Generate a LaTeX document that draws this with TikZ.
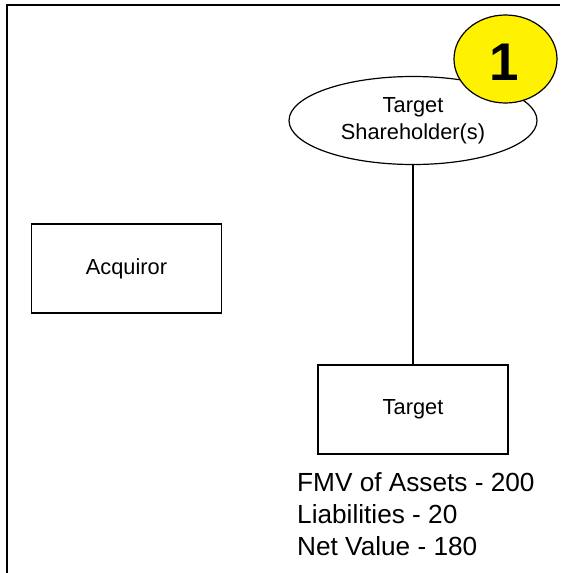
\documentclass[tikz,border=0pt]{standalone}
\usepackage{fontspec}
\setmainfont{Liberation Sans}
\usetikzlibrary{shapes.geometric}
\begin{document}
\begin{tikzpicture}[x=1pt,y=-1pt,
  box/.style={draw,line width=1.3pt,minimum width=190pt,minimum height=89pt,inner sep=0pt,font=\fontsize{21.8}{26}\selectfont},
  oval/.style={draw,line width=1.2pt,ellipse,minimum width=248pt,minimum height=88pt,inner sep=0pt,align=center,font=\fontsize{21.8}{26.7}\selectfont},
  badge/.style={draw,line width=1.2pt,fill=yellow,ellipse,minimum width=103pt,minimum height=88pt,inner sep=0pt,font=\fontsize{53}{56}\selectfont\bfseries},
  frame/.style={line width=2pt}]
\useasboundingbox (0,0) rectangle (560,573);
\draw[frame] (6.7,573) -- (6.7,4.7) -- (560,4.7);
\node[box] (acq) at (126.5,268.5) {Acquiror};
\node[box] (tgt) at (413,409.5) {Target};
\node[oval] (sh) at (413,120.5) {Target\\Shareholder(s)};
\node[badge] (one) at (505.5,59) {};
\node[font=\fontsize{53}{56}\selectfont\bfseries,inner sep=0pt] (onetxt) at (504.7,62.3) {1};
\draw[line width=1.2pt] (sh.south) -- (tgt.north);
\node[anchor=base west,align=left,inner sep=0pt,font=\fontsize{26.2}{31.7}\selectfont] (fmv) at (297,555) {FMV of Assets - 200\\Liabilities - 20\\Net Value - 180};
\end{tikzpicture}
\end{document}
